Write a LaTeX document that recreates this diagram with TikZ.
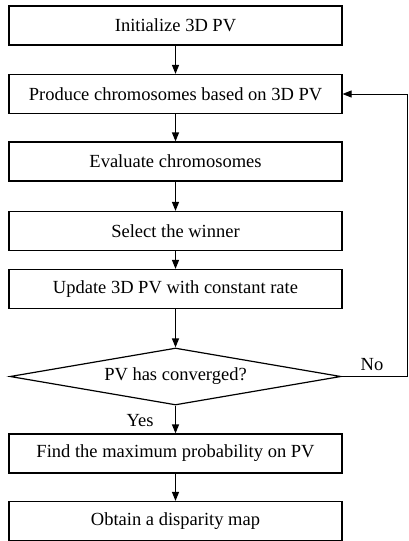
\documentclass[tikz,border=0pt]{standalone}
\usepackage{fontspec}
\setmainfont{Liberation Serif}
\usetikzlibrary{arrows.meta,shapes.geometric}
\begin{document}
\begin{tikzpicture}[x=1pt,y=-1pt,
  every node/.style={font=\fontsize{18.5}{22}\selectfont},
  procbox/.style={draw,line width=1.2pt,minimum width=333pt,minimum height=39pt,inner sep=0pt},
  decbox/.style={draw,line width=1.2pt,diamond,aspect=5.8,minimum width=331pt,minimum height=57pt,inner sep=0pt},
  flow/.style={line width=1.2pt,-{Triangle[length=9pt,width=7pt]}},
  lbl/.style={inner sep=1pt}]
\useasboundingbox (0,0) rectangle (409,541);
\node[procbox] (p1) at (175.5,25.5) {Initialize 3D PV};
\node[procbox] (p2) at (175.5,94) {Produce chromosomes based on 3D PV};
\node[procbox] (p3) at (175.5,161.5) {Evaluate chromosomes};
\node[procbox] (p4) at (175.5,231) {Select the winner};
\node[procbox] (p5) at (175.5,289) {Update 3D PV with constant rate};
\node[decbox] (d) at (175.5,376.5) {PV has converged?};
\node[procbox] (p6) at (175.5,453.5) {Find the maximum probability on PV};
\node[procbox] (p7) at (175.5,521) {Obtain a disparity map};
\coordinate (fb) at (407,376.5);
\draw[flow] (p1) -- (p2);
\draw[flow] (p2) -- (p3);
\draw[flow] (p3) -- (p4);
\draw[flow] (p4) -- (p5);
\draw[flow] (p5.south) -- (d.north);
\draw[flow] (d.south) -- (p6.north);
\draw[flow] (p6) -- (p7);
\draw[line width=1.2pt] (d.east) -- (fb);
\draw[line width=0.8pt,-{Triangle[length=9pt,width=7pt]}] (fb) |- (p2.east);
\node[lbl] (no) at (372,365) {No};
\node[lbl] (yes) at (140,421) {Yes};
\end{tikzpicture}
\end{document}
